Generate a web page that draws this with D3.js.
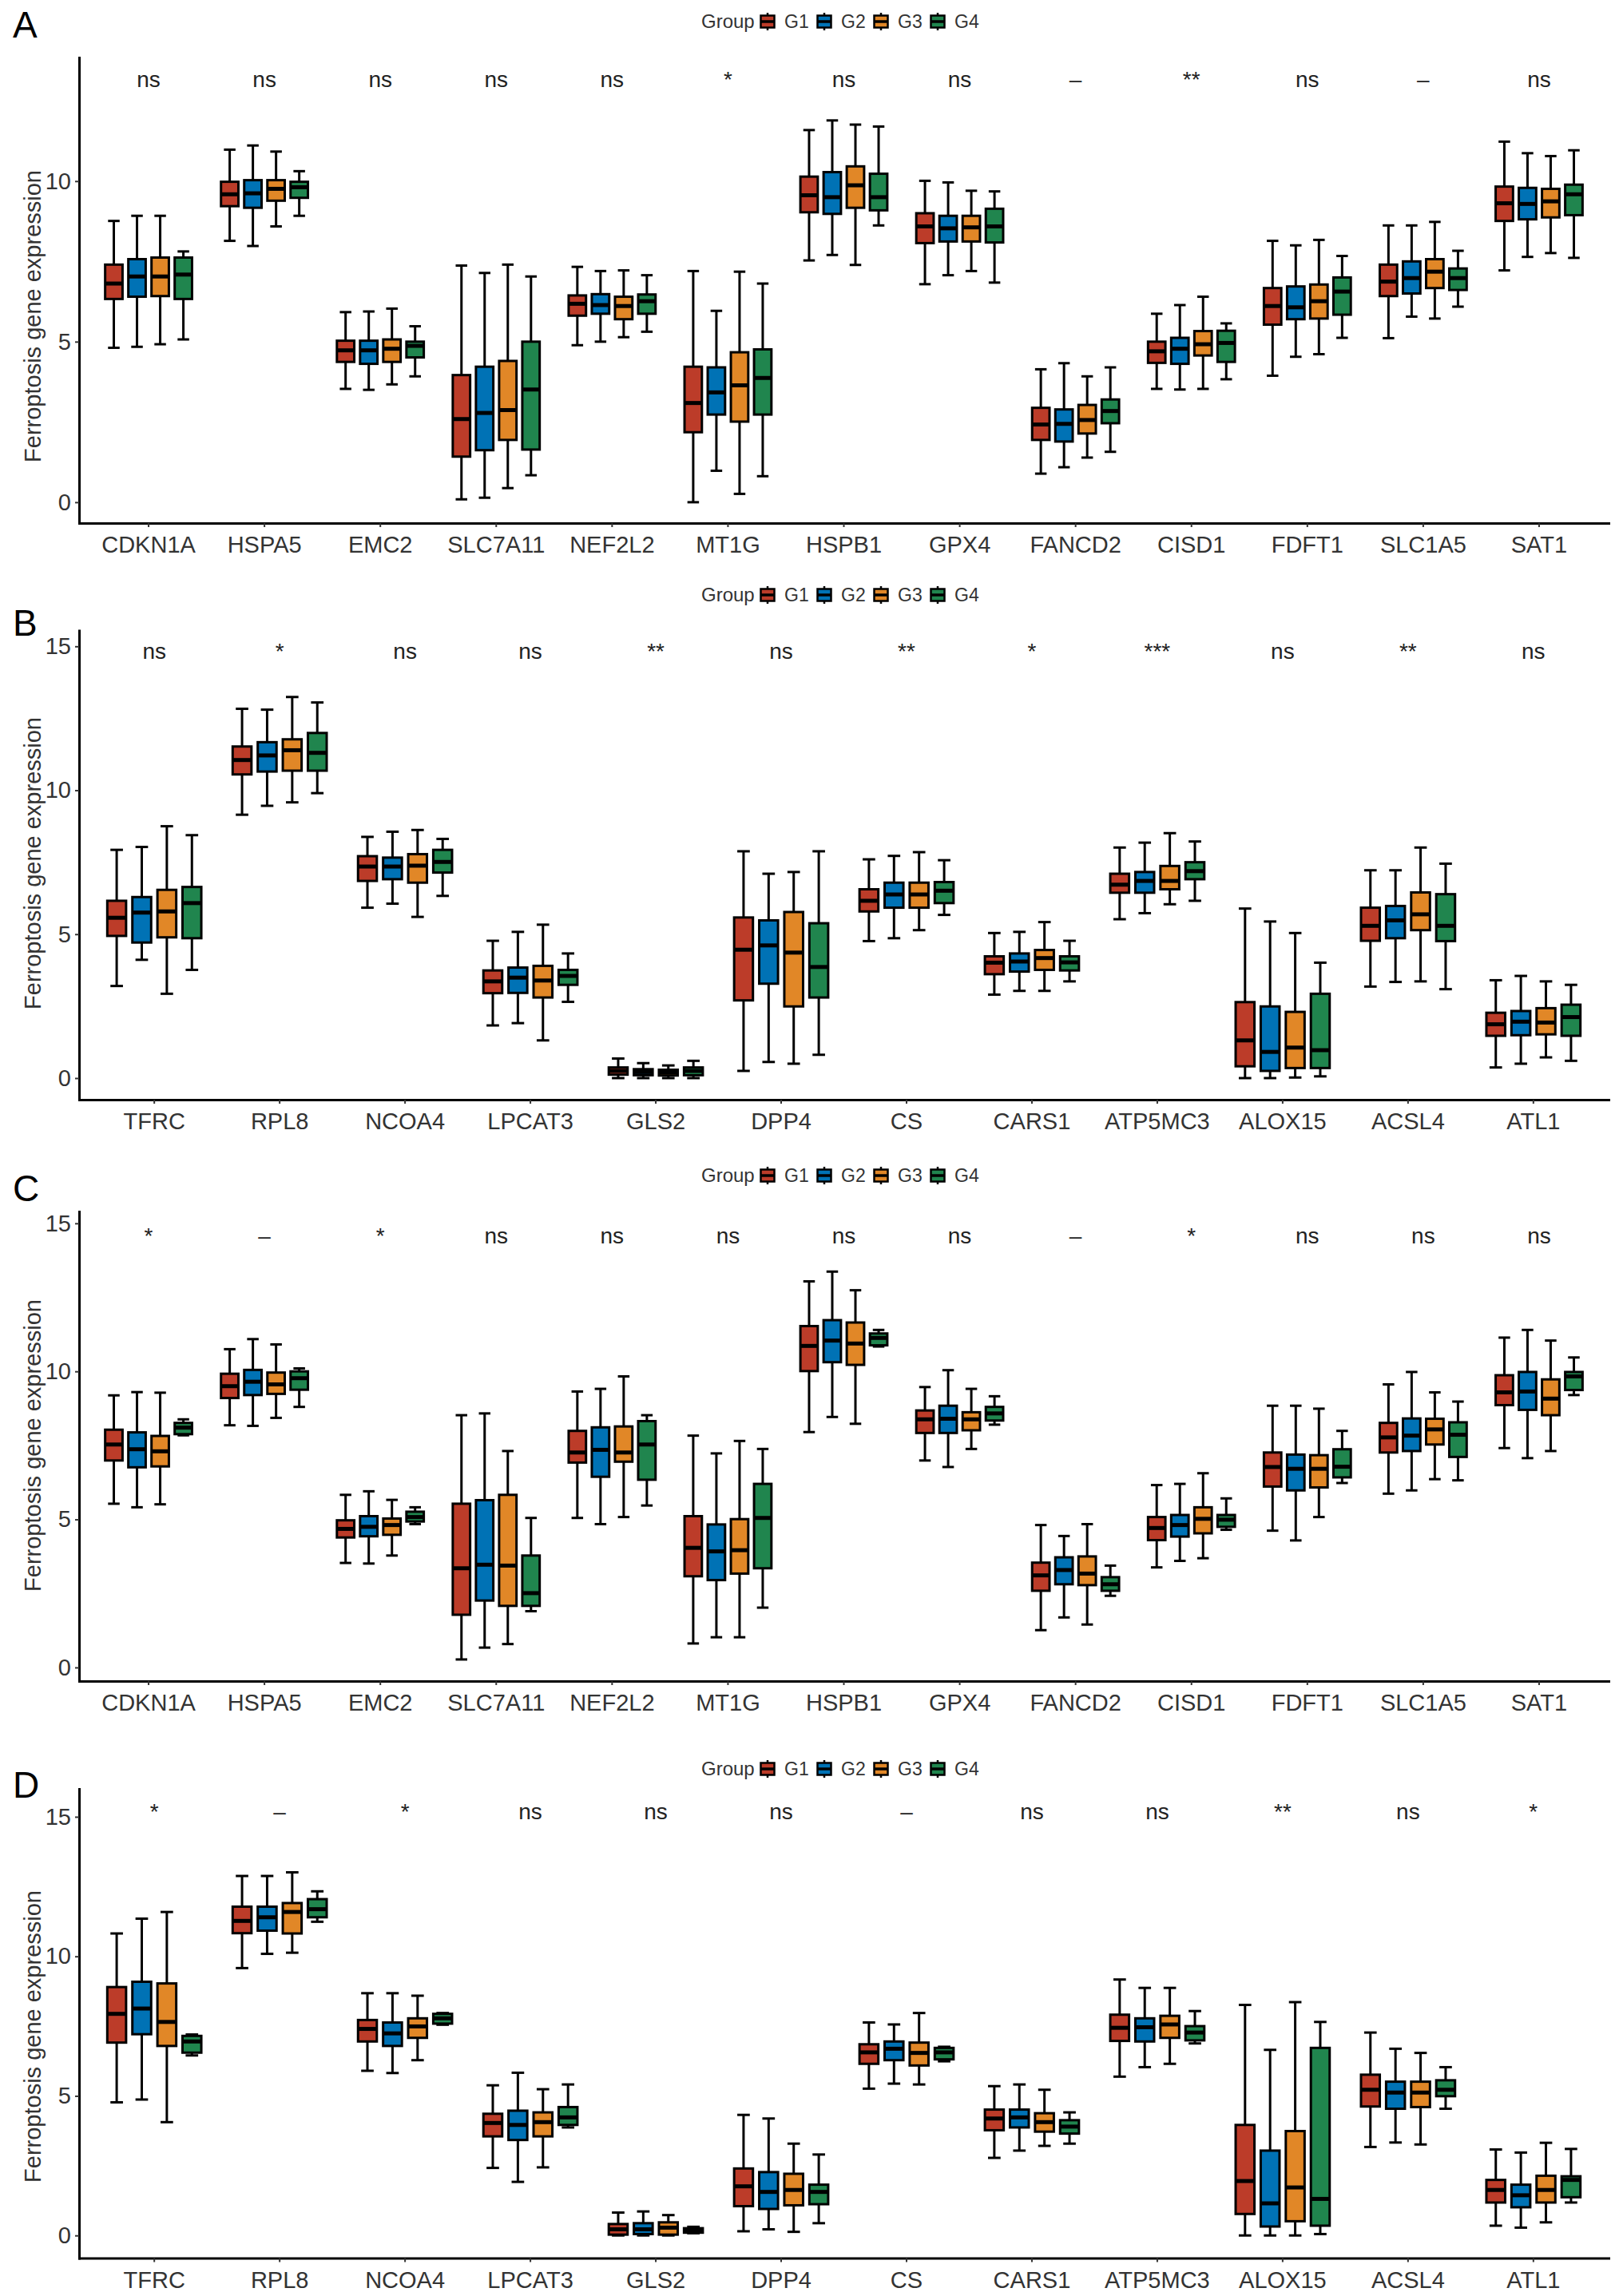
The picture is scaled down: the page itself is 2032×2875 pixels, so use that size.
<!DOCTYPE html>
<html>
<head>
<meta charset="utf-8">
<script src="https://cdn.jsdelivr.net/npm/d3@7"></script>
<style>
body{margin:0;background:#fff;}
text{font-family:"Liberation Sans",Arial,Helvetica,sans-serif;}
</style>
</head>
<body>
<svg id="chart"></svg>
<script>
var groups=["G1","G2","G3","G4"];
var colors=["#BC3C29","#0072B5","#E18727","#20854E"];
var genesAC=["CDKN1A","HSPA5","EMC2","SLC7A11","NEF2L2","MT1G","HSPB1","GPX4","FANCD2","CISD1","FDFT1","SLC1A5","SAT1"];
var genesBD=["TFRC","RPL8","NCOA4","LPCAT3","GLS2","DPP4","CS","CARS1","ATP5MC3","ALOX15","ACSL4","ATL1"];
var ticksA=[0,5,10];
var ticksBCD=[0,5,10,15];

var sigA=["ns","ns","ns","ns","ns","*","ns","ns","–","**","ns","–","ns"];
var sigB=["ns","*","ns","ns","**","ns","**","*","***","ns","**","ns"];
var sigC=["*","–","*","ns","ns","ns","ns","ns","–","*","ns","ns","ns"];
var sigD=["*","–","*","ns","ns","ns","–","ns","ns","**","ns","*"];

// each gene: G1..G4 as [lower whisker, Q1, median, Q3, upper whisker]
var statsA=[
 [[4.81,6.33,6.81,7.4,8.76],[4.84,6.4,7.03,7.57,8.92],[4.92,6.42,7.03,7.62,8.92],[5.07,6.33,7.09,7.62,7.81]],
 [[8.14,9.22,9.59,9.98,10.98],[7.98,9.17,9.62,10.03,11.11],[8.59,9.39,9.76,10.03,10.92],[8.92,9.48,9.81,9.98,10.31]],
 [[3.53,4.37,4.73,5.03,5.92],[3.5,4.31,4.73,5.03,5.94],[3.67,4.37,4.78,5.07,6.03],[3.92,4.51,4.87,5.0,5.48]],
 [[0.09,1.42,2.59,3.96,7.37],[0.14,1.62,2.78,4.22,7.14],[0.44,1.94,2.87,4.4,7.4],[0.84,1.64,3.51,5.0,7.03]],
 [[4.89,5.81,6.18,6.44,7.33],[5.0,5.87,6.14,6.48,7.2],[5.14,5.7,6.11,6.4,7.22],[5.31,5.87,6.26,6.47,7.07]],
 [[0,2.18,3.09,4.22,7.2],[0.98,2.73,3.42,4.2,5.96],[0.26,2.51,3.64,4.67,7.18],[0.81,2.73,3.87,4.76,6.81]],
 [[7.53,9.03,9.56,10.14,11.59],[7.7,8.98,9.5,10.28,11.89],[7.39,9.17,9.87,10.46,11.76],[8.62,9.09,9.5,10.23,11.7]],
 [[6.79,8.07,8.59,9.0,10.01],[7.07,8.12,8.53,8.92,9.96],[7.2,8.12,8.56,8.92,9.7],[6.84,8.09,8.59,9.14,9.68]],
 [[0.89,1.94,2.42,2.94,4.14],[1.09,1.89,2.44,2.89,4.33],[1.39,2.14,2.56,3.03,3.92],[1.57,2.46,2.84,3.2,4.2]],
 [[3.53,4.34,4.7,5.0,5.87],[3.51,4.31,4.78,5.12,6.14],[3.53,4.57,4.92,5.33,6.4],[3.83,4.37,4.96,5.34,5.57]],
 [[3.94,5.53,6.11,6.67,8.14],[4.53,5.7,6.07,6.72,8.0],[4.61,5.72,6.26,6.78,8.17],[5.12,5.84,6.56,7.0,7.67]],
 [[5.11,6.42,6.87,7.4,8.62],[5.78,6.5,6.98,7.5,8.62],[5.72,6.67,7.18,7.57,8.73],[6.09,6.61,6.98,7.28,7.83]],
 [[7.22,8.76,9.31,9.83,11.23],[7.64,8.81,9.29,9.79,10.87],[7.76,8.87,9.37,9.76,10.78],[7.61,8.94,9.59,9.89,10.96]]
];
var statsB=[
 [[3.2,4.94,5.57,6.16,7.93],[4.11,4.71,5.75,6.29,8.03],[2.93,4.89,5.79,6.54,8.75],[3.76,4.86,6.08,6.64,8.44]],
 [[9.15,10.55,11.05,11.52,12.83],[9.46,10.65,11.21,11.67,12.8],[9.58,10.68,11.39,11.77,13.24],[9.9,10.68,11.3,11.99,13.05]],
 [[5.92,6.85,7.35,7.71,8.38],[6.06,6.91,7.35,7.66,8.56],[5.6,6.79,7.38,7.78,8.62],[6.33,7.14,7.51,7.93,8.31]],
 [[1.83,2.95,3.36,3.74,4.77],[1.91,2.96,3.49,3.84,5.08],[1.31,2.8,3.39,3.9,5.33],[2.65,3.24,3.55,3.76,4.33]],
 [[0,0.12,0.25,0.37,0.68],[0,0.1,0.21,0.31,0.52],[0,0.09,0.19,0.29,0.44],[0,0.1,0.25,0.37,0.6]],
 [[0.25,2.7,4.46,5.58,7.88],[0.56,3.28,4.61,5.48,7.1],[0.5,2.49,4.36,5.77,7.16],[0.81,2.8,3.86,5.38,7.88]],
 [[4.76,5.79,6.16,6.56,7.6],[4.86,5.92,6.38,6.79,7.72],[5.14,5.92,6.38,6.79,7.85],[5.67,6.08,6.51,6.81,7.57]],
 [[2.9,3.61,4.01,4.23,5.04],[3.03,3.7,4.05,4.33,5.08],[3.03,3.76,4.17,4.45,5.42],[3.36,3.74,4.02,4.23,4.77]],
 [[5.52,6.44,6.72,7.1,8.01],[5.73,6.44,6.85,7.16,8.18],[6.04,6.56,6.85,7.37,8.51],[6.16,6.91,7.19,7.5,8.22]],
 [[0,0.41,1.31,2.64,5.89],[0,0.25,0.91,2.49,5.44],[0.02,0.35,1.06,2.3,5.04],[0.06,0.35,0.97,2.93,4.01]],
 [[3.18,4.77,5.29,5.92,7.22],[3.34,4.86,5.48,5.98,7.22],[3.36,5.14,5.69,6.45,8.01],[3.09,4.76,5.29,6.39,7.45]],
 [[0.37,1.47,1.87,2.27,3.4],[0.5,1.49,1.96,2.33,3.55],[0.72,1.52,1.93,2.43,3.36],[0.6,1.47,2.12,2.55,3.24]]
];
var statsC=[
 [[5.53,6.99,7.53,8.03,9.19],[5.41,6.76,7.37,7.94,9.3],[5.51,6.79,7.3,7.82,9.28],[7.84,7.88,8.1,8.26,8.38]],
 [[8.18,9.1,9.5,9.92,10.75],[8.16,9.2,9.65,10.05,11.09],[8.43,9.24,9.56,9.96,10.91],[8.8,9.38,9.77,10.0,10.1]],
 [[3.53,4.39,4.68,4.97,5.83],[3.51,4.43,4.75,5.11,5.95],[3.78,4.48,4.81,5.03,5.66],[4.84,4.93,5.08,5.26,5.41]],
 [[0.27,1.78,3.35,5.53,8.52],[0.67,2.26,3.47,5.65,8.58],[0.79,2.08,3.44,5.83,7.31],[1.9,2.08,2.51,3.78,5.05]],
 [[5.05,6.92,7.26,7.99,9.32],[4.84,6.44,7.35,8.11,9.41],[5.08,6.95,7.26,8.14,9.83],[5.47,6.34,7.53,8.32,8.52]],
 [[0.81,3.08,4.04,5.11,7.83],[1.02,2.95,3.92,4.83,7.23],[1.02,3.17,3.96,5.01,7.65],[2.02,3.35,5.05,6.2,7.38]],
 [[7.95,10.01,10.86,11.53,13.04],[8.46,10.31,11.04,11.73,13.37],[8.23,10.22,10.94,11.65,12.74],[10.84,10.88,11.13,11.28,11.4]],
 [[6.99,7.92,8.38,8.68,9.47],[6.77,7.92,8.4,8.84,10.04],[7.38,8.01,8.38,8.62,9.41],[8.2,8.34,8.58,8.8,9.16]],
 [[1.26,2.59,3.11,3.54,4.81],[1.69,2.81,3.29,3.72,4.44],[1.45,2.78,3.17,3.75,4.84],[2.42,2.59,2.81,3.05,3.44]],
 [[3.38,4.3,4.71,5.08,6.16],[3.6,4.42,4.81,5.15,6.2],[3.69,4.53,5.02,5.41,6.56],[4.65,4.75,4.99,5.15,5.71]],
 [[4.62,6.11,6.77,7.26,8.84],[4.29,5.98,6.71,7.19,8.84],[5.08,6.08,6.71,7.17,8.74],[6.23,6.42,6.78,7.37,7.99]],
 [[5.87,7.26,7.77,8.26,9.56],[5.98,7.31,7.83,8.41,9.98],[6.36,7.53,8.04,8.4,9.29],[6.32,7.11,7.86,8.28,8.98]],
 [[7.41,8.86,9.29,9.87,11.14],[7.07,8.7,9.32,9.98,11.4],[7.31,8.52,9.08,9.73,11.04],[9.2,9.37,9.83,9.98,10.47]]
];
var statsD=[
 [[4.77,6.91,7.94,8.9,10.82],[4.87,7.21,8.13,9.09,11.35],[4.06,6.79,7.65,9.03,11.59],[6.45,6.55,6.95,7.15,7.2]],
 [[9.58,10.83,11.27,11.78,12.88],[10.09,10.92,11.4,11.78,12.88],[10.13,10.82,11.59,11.91,13.01],[11.24,11.4,11.69,12.05,12.33]],
 [[5.9,6.95,7.4,7.72,8.68],[5.82,6.79,7.24,7.63,8.68],[6.28,7.08,7.49,7.78,8.59],[7.55,7.59,7.78,7.94,7.97]],
 [[2.42,3.55,4.03,4.36,5.38],[1.92,3.42,3.96,4.47,5.83],[2.44,3.55,4.06,4.41,5.24],[3.87,3.96,4.23,4.6,5.41]],
 [[0,0.03,0.22,0.41,0.82],[0,0.05,0.22,0.44,0.86],[0,0.03,0.28,0.47,0.73],[0.08,0.1,0.18,0.26,0.31]],
 [[0.15,1.05,1.76,2.4,4.32],[0.22,0.95,1.56,2.27,4.19],[0.13,1.08,1.63,2.21,3.29],[0.44,1.12,1.56,1.82,2.9]],
 [[5.26,6.15,6.56,6.85,7.63],[5.44,6.28,6.69,6.95,7.56],[5.41,6.09,6.54,6.91,7.97],[6.24,6.31,6.56,6.72,6.76]],
 [[2.78,3.77,4.19,4.51,5.35],[3.04,3.87,4.23,4.51,5.41],[3.21,3.72,4.06,4.38,5.22],[3.29,3.65,3.9,4.13,4.41]],
 [[5.69,6.97,7.44,7.91,9.17],[6.03,6.95,7.46,7.78,8.87],[6.15,7.08,7.56,7.87,8.87],[6.88,6.99,7.27,7.5,8.04]],
 [[0,0.77,1.95,3.96,8.26],[0,0.32,1.15,3.04,6.65],[0,0.51,1.72,3.74,8.36],[0.05,0.35,1.31,6.72,7.65]],
 [[3.17,4.62,5.22,5.76,7.27],[3.33,4.54,5.12,5.51,6.69],[3.26,4.6,5.12,5.51,6.54],[4.54,4.99,5.22,5.56,6.03]],
 [[0.35,1.18,1.63,1.99,3.08],[0.28,1.01,1.44,1.82,2.97],[0.47,1.18,1.63,2.14,3.32],[1.18,1.37,1.99,2.12,3.1]]
];

var w=2032;
var h=2875;
var left=99;
var right=2014;
var fontAxis=29;

var svg=d3.select("#chart")
          .attr("width",w)
          .attr("height",h);

svg.append("rect")
   .attr("width",w)
   .attr("height",h)
   .attr("fill","#fff");

var panels=[
 {letter:"A",genes:genesAC,stats:statsA,sig:sigA,ticks:ticksA,domain:[-0.65,13.85],top:72,bottom:655,letterY:47,legendY:27,sigY:12.94,titleY:396},
 {letter:"B",genes:genesBD,stats:statsB,sig:sigB,ticks:ticksBCD,domain:[-0.75,15.55],top:789.5,bottom:1377,letterY:796,legendY:745,sigY:14.56,titleY:1081},
 {letter:"C",genes:genesAC,stats:statsC,sig:sigC,ticks:ticksBCD,domain:[-0.46,15.4],top:1517,bottom:2105,letterY:1504,legendY:1472,sigY:14.33,titleY:1810},
 {letter:"D",genes:genesBD,stats:statsD,sig:sigD,ticks:ticksBCD,domain:[-0.81,16.0],top:2240,bottom:2827.5,letterY:2251,legendY:2215,sigY:14.9,titleY:2550}
];

panels.forEach(function(p){
  var xScale=d3.scaleBand()
               .domain(p.genes)
               .range([left,right])
               .paddingInner(0)
               .paddingOuter(0.1);
  var u=xScale.step();
  var gScale=d3.scaleBand()
               .domain(groups)
               .range([-0.4*u,0.4*u]);
  var cScale=d3.scaleOrdinal()
               .domain(groups)
               .range(colors);
  var yScale=d3.scaleLinear()
               .domain(p.domain)
               .range([p.bottom,p.top]);
  var boxW=0.15*u;
  var capW=0.1*u;

  var rows=[];
  p.genes.forEach(function(gene,i){
    p.stats[i].forEach(function(s,j){
      rows.push({gene:gene,group:groups[j],lo:s[0],q1:s[1],med:s[2],q3:s[3],hi:s[4]});
    });
  });
  function cx(d){return xScale(d.gene)+xScale.bandwidth()/2+gScale(d.group)+gScale.bandwidth()/2;}

  var panel=svg.append("g").classed("panel",true);

  // axes
  var yAxis=d3.axisLeft(yScale)
              .tickValues(p.ticks)
              .tickSize(5)
              .tickSizeOuter(0)
              .tickPadding(5);
  var xAxis=d3.axisBottom(xScale)
              .tickSize(5)
              .tickSizeOuter(0)
              .tickPadding(11.5);
  var gy=panel.append("g")
              .classed("yAxis",true)
              .attr("transform","translate("+left+",0)")
              .call(yAxis);
  var gxa=panel.append("g")
              .classed("xAxis",true)
              .attr("transform","translate(0,"+p.bottom+")")
              .call(xAxis);
  [gy,gxa].forEach(function(a){
    a.select(".domain")
     .attr("stroke","#000")
     .attr("stroke-width",3)
     .attr("stroke-linecap","square");
    a.selectAll(".tick line")
     .attr("stroke","#333")
     .attr("stroke-width",2);
    a.selectAll(".tick text")
     .attr("fill","#333")
     .style("font-size",fontAxis+"px");
  });

  // boxes
  var box=panel.append("g")
               .selectAll("g")
               .data(rows)
               .enter()
               .append("g");
  box.append("line")
     .attr("x1",cx).attr("x2",cx)
     .attr("y1",function(d){return yScale(d.lo);})
     .attr("y2",function(d){return yScale(d.hi);})
     .attr("stroke","#000")
     .attr("stroke-width",3);
  box.append("line")
     .attr("x1",function(d){return cx(d)-capW/2;})
     .attr("x2",function(d){return cx(d)+capW/2;})
     .attr("y1",function(d){return yScale(d.hi);})
     .attr("y2",function(d){return yScale(d.hi);})
     .attr("stroke","#000")
     .attr("stroke-width",3);
  box.append("line")
     .attr("x1",function(d){return cx(d)-capW/2;})
     .attr("x2",function(d){return cx(d)+capW/2;})
     .attr("y1",function(d){return yScale(d.lo);})
     .attr("y2",function(d){return yScale(d.lo);})
     .attr("stroke","#000")
     .attr("stroke-width",3);
  box.append("rect")
     .attr("x",function(d){return cx(d)-boxW/2;})
     .attr("y",function(d){return yScale(d.q3);})
     .attr("width",boxW)
     .attr("height",function(d){return Math.max(0,yScale(d.q1)-yScale(d.q3));})
     .attr("fill",function(d){return cScale(d.group);})
     .attr("stroke","#000")
     .attr("stroke-width",3);
  box.append("line")
     .attr("x1",function(d){return cx(d)-boxW/2;})
     .attr("x2",function(d){return cx(d)+boxW/2;})
     .attr("y1",function(d){return yScale(d.med);})
     .attr("y2",function(d){return yScale(d.med);})
     .attr("stroke","#000")
     .attr("stroke-width",5);

  // significance labels
  panel.append("g")
       .selectAll("text")
       .data(p.genes)
       .enter()
       .append("text")
       .attr("x",function(d){return xScale(d)+xScale.bandwidth()/2;})
       .attr("y",yScale(p.sigY))
       .attr("text-anchor","middle")
       .attr("fill","#222")
       .style("font-size","28px")
       .text(function(d,i){return p.sig[i];});

  // y title
  panel.append("text")
       .attr("transform","translate(51,"+p.titleY+") rotate(-90)")
       .attr("text-anchor","middle")
       .attr("fill","#333")
       .style("font-size","29px")
       .text("Ferroptosis gene expression");

  // panel letter
  panel.append("text")
       .attr("x",16)
       .attr("y",p.letterY)
       .attr("fill","#000")
       .style("font-size","46px")
       .text(p.letter);

  // legend
  var leg=panel.append("g")
               .attr("transform","translate(0,"+p.legendY+")");
  leg.append("text")
     .attr("x",878)
     .attr("y",8)
     .attr("fill","#333")
     .style("font-size","24px")
     .text("Group");
  var key=leg.selectAll("g.key")
             .data(groups)
             .enter()
             .append("g")
             .classed("key",true)
             .attr("transform",function(d,i){return "translate("+(961+i*71)+",0)";});
  key.append("line")
     .attr("x1",0).attr("x2",0)
     .attr("y1",-11).attr("y2",11)
     .attr("stroke","#000")
     .attr("stroke-width",2.5);
  key.append("rect")
     .attr("x",-8.5)
     .attr("y",-7.5)
     .attr("width",17)
     .attr("height",15)
     .attr("fill",function(d){return cScale(d);})
     .attr("stroke","#000")
     .attr("stroke-width",2.5);
  key.append("line")
     .attr("x1",-8.5).attr("x2",8.5)
     .attr("y1",0).attr("y2",0)
     .attr("stroke","#000")
     .attr("stroke-width",3.5);
  key.append("text")
     .attr("x",21)
     .attr("y",8)
     .attr("fill","#333")
     .style("font-size","23px")
     .text(function(d){return d;});
});
</script>
</body>
</html>
